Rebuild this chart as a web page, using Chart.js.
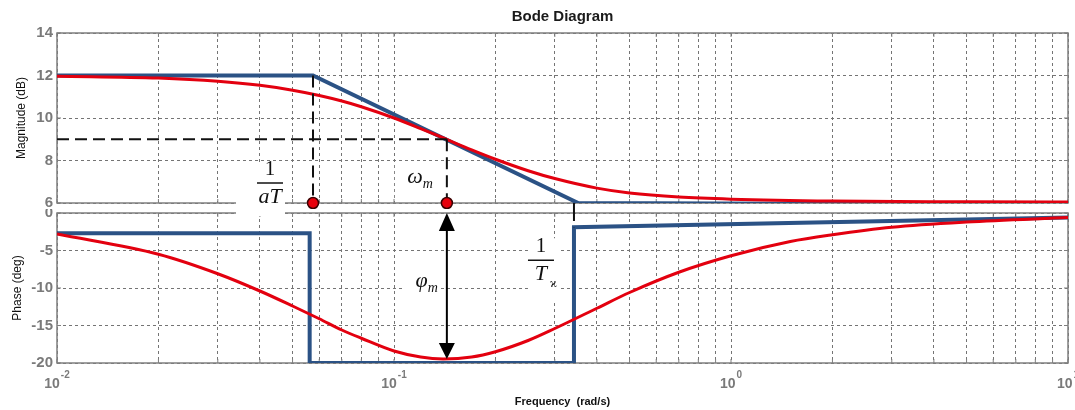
<!DOCTYPE html>
<html>
<head>
<meta charset="utf-8">
<title>Bode Diagram</title>
<script src="https://cdn.jsdelivr.net/npm/chart.js@4.4.0/dist/chart.umd.min.js"></script>
<style>
  body { margin: 0; background: #fff; }
  #wrap { position: relative; width: 1075px; height: 410px; }
  canvas { position: absolute; left: 0; }
  #magChart { top: 0; }
  #phaseChart { top: 209px; }
</style>
</head>
<body>
<div id="wrap">
  <canvas id="magChart" width="1075" height="209"></canvas>
  <canvas id="phaseChart" width="1075" height="201"></canvas>
</div>
<script>
// frequency grid, rad/s
var freqTicks = [0.01, 0.02, 0.03, 0.04, 0.05, 0.06, 0.07, 0.08, 0.09,
                 0.1, 0.2, 0.3, 0.4, 0.5, 0.6, 0.7, 0.8, 0.9,
                 1, 2, 3, 4, 5, 6, 7, 8, 9, 10];
var decadeTicks = [0.01, 0.1, 1, 10];
var decadeExp = ['-2', '-1', '0', '1'];

// exact response (red)
var magFreq = [0.01, 0.02, 0.03, 0.04, 0.05, 0.06, 0.07, 0.08, 0.1, 0.12, 0.14,
               0.17, 0.2, 0.25, 0.3, 0.4, 0.5, 0.7, 1, 2, 5, 10];
var magExact = [11.97, 11.88, 11.73, 11.54, 11.31, 11.06, 10.8, 10.53, 10.0, 9.5, 9.06,
                8.5, 8.06, 7.52, 7.15, 6.7, 6.47, 6.28, 6.18, 6.09, 6.06, 6.05];
var phaseFreq = [0.01, 0.02, 0.03, 0.04, 0.05, 0.06, 0.07, 0.08, 0.1, 0.12, 0.14, 0.17,
                 0.2, 0.25, 0.3, 0.4, 0.5, 0.7, 1, 1.5, 2, 3, 5, 10];
var phaseExact = [-2.8, -5.5, -8.1, -10.4, -12.4, -14.1, -15.6, -16.7, -18.4, -19.2, -19.45, -19.2,
                  -18.5, -17.0, -15.4, -12.7, -10.6, -7.9, -5.7, -3.8, -2.9, -1.9, -1.2, -0.6];

// asymptotes (blue)
var asymMagFreq = [0.01, 0.0575, 0.352, 10];
var asymMag = [12, 12, 6, 5.92];
var asymPhaseFreq = [0.01, 0.0562, 0.0562, 0.342, 0.342, 10];
var asymPhase = [-2.7, -2.7, -20, -20, -1.9, -0.6];

// marked frequencies
var wCorner = 0.0575;   // 1/aT
var wMax = 0.1435;      // omega_m
var wUpper = 0.342;     // 1/T
var magAtMax = 9;
var phaseAtMax = -19.45;

var RED = '#e3000f';
var BLUE = '#2b5285';
var GRID = '#747474';
var FRAME = '#7f7f7f';
var LABEL = '#7a7a7a';
var MATH = '"Liberation Serif", "DejaVu Serif", serif';

Chart.defaults.font.family = '"Liberation Sans", Arial, sans-serif';

function points(xs, ys) {
    return xs.map(function (x, i) { return {x: x, y: ys[i]}; });
}

function freqAxis(showTitle) {
    return {
        type: 'logarithmic',
        min: 0.01,
        max: 10,
        afterBuildTicks: function (s) {
            s.ticks = freqTicks.map(function (v) { return {value: v}; });
        },
        afterFit: function (s) {
            s.height = showTitle ? 47 : 0;
            s.paddingLeft = 0; s.paddingRight = 0;
        },
        ticks: { display: false, autoSkip: false, callback: function () { return ''; } },
        grid: { color: GRID, lineWidth: 1, drawTicks: false },
        border: { display: false, dash: [3, 3] },
        title: {
            display: showTitle,
            text: 'Frequency  (rad/s)',
            color: '#111',
            font: { size: 11, weight: 'bold' },
            padding: { top: 0, bottom: 1 }
        }
    };
}

function valueAxis(min, max, step, title, titlePad) {
    return {
        min: min,
        max: max,
        afterFit: function (s) {
            s.width = 57;
            s.paddingTop = 0; s.paddingBottom = 0;
        },
        ticks: { stepSize: step, padding: 4, color: LABEL, font: { size: 15, weight: 'bold' } },
        grid: { color: GRID, lineWidth: 1, drawTicks: false },
        border: { display: false, dash: [3, 3] },
        title: {
            display: true,
            text: title,
            color: '#111',
            font: { size: 12 },
            padding: { top: titlePad, bottom: 0 }
        }
    };
}

// solid box round the plot with short inward ticks
function drawFrame(chart) {
    var ctx = chart.ctx, a = chart.chartArea;
    var xs = chart.scales.x, ys = chart.scales.y;
    ctx.save();
    ctx.strokeStyle = FRAME;
    ctx.lineWidth = 1.5;
    ctx.strokeRect(a.left, a.top, a.right - a.left, a.bottom - a.top);
    ctx.lineWidth = 1;
    ctx.beginPath();
    xs.ticks.forEach(function (t) {
        var px = xs.getPixelForValue(t.value);
        ctx.moveTo(px, a.top); ctx.lineTo(px, a.top + 4);
        ctx.moveTo(px, a.bottom); ctx.lineTo(px, a.bottom - 4);
    });
    ys.ticks.forEach(function (t) {
        var py = ys.getPixelForValue(t.value);
        ctx.moveTo(a.left, py); ctx.lineTo(a.left + 4, py);
        ctx.moveTo(a.right, py); ctx.lineTo(a.right - 4, py);
    });
    ctx.stroke();
    ctx.restore();
}

function blank(ctx, x0, y0, x1, y1) {
    ctx.fillStyle = '#fff';
    ctx.fillRect(x0, y0, x1 - x0, y1 - y0);
}

function dashed(ctx, x0, y0, x1, y1) {
    ctx.save();
    ctx.strokeStyle = '#111';
    ctx.lineWidth = 2;
    ctx.setLineDash([12, 6]);
    ctx.beginPath();
    ctx.moveTo(x0, y0);
    ctx.lineTo(x1, y1);
    ctx.stroke();
    ctx.restore();
}

function dot(ctx, x, y) {
    ctx.save();
    ctx.beginPath();
    ctx.arc(x, y, 5.5, 0, Math.PI * 2);
    ctx.fillStyle = '#e8000b';
    ctx.fill();
    ctx.lineWidth = 1.5;
    ctx.strokeStyle = '#3a0000';
    ctx.stroke();
    ctx.restore();
}

// fraction 1 / den, centred on cx with the bar at y
function fraction(ctx, cx, y, den, sub) {
    ctx.save();
    ctx.fillStyle = '#111';
    ctx.textAlign = 'center';
    ctx.textBaseline = 'middle';
    ctx.font = '21px ' + MATH;
    ctx.fillText('1', cx, y - 14);
    ctx.font = 'italic 22px ' + MATH;
    ctx.fillText(den, cx, y + 14);
    ctx.strokeStyle = '#111';
    ctx.lineWidth = 1.5;
    ctx.beginPath();
    ctx.moveTo(cx - 13, y);
    ctx.lineTo(cx + 13, y);
    ctx.stroke();
    if (sub) {
        ctx.font = '12px ' + MATH;
        ctx.textAlign = 'left';
        ctx.textBaseline = 'alphabetic';
        ctx.fillText(sub, cx + 9, y + 27);
    }
    ctx.restore();
}

// greek symbol with subscript m, right edge at x, baseline at y
function greek(ctx, x, y, sym) {
    ctx.save();
    ctx.fillStyle = '#111';
    ctx.textBaseline = 'alphabetic';
    ctx.font = 'italic 14px ' + MATH;
    var ws = ctx.measureText('m').width;
    ctx.font = 'italic 22px ' + MATH;
    var wg = ctx.measureText(sym).width;
    ctx.fillText(sym, x - ws - wg, y);
    ctx.font = 'italic 14px ' + MATH;
    ctx.fillText('m', x - ws, y + 5);
    ctx.restore();
}

var magMarks = {
    id: 'magMarks',
    beforeDatasetsDraw: function (chart) {
        var ctx = chart.ctx, xs = chart.scales.x, ys = chart.scales.y;
        var xC = xs.getPixelForValue(wCorner), xM = xs.getPixelForValue(wMax);
        var yB = ys.getPixelForValue(6);
        drawFrame(chart);
        blank(ctx, xC - 77, yB - 41, xC - 28, chart.height);
        blank(ctx, xM - 52, yB - 40, xM - 10, yB - 5);
    },
    afterDatasetsDraw: function (chart) {
        var ctx = chart.ctx, a = chart.chartArea, xs = chart.scales.x, ys = chart.scales.y;
        var xC = xs.getPixelForValue(wCorner), xM = xs.getPixelForValue(wMax);
        var xT = xs.getPixelForValue(wUpper);
        var yB = ys.getPixelForValue(6), yH = ys.getPixelForValue(magAtMax);
        dashed(ctx, a.left, yH, xM, yH);
        dashed(ctx, xC, ys.getPixelForValue(12), xC, yB);
        dashed(ctx, xM, yH, xM, yB);
        dashed(ctx, xT, yB, xT, chart.height);
        dot(ctx, xC, yB);
        dot(ctx, xM, yB);
        fraction(ctx, xC - 43, yB - 20, 'aT');
        greek(ctx, xM - 14, yB - 20, 'ω');
    }
};

var phaseMarks = {
    id: 'phaseMarks',
    beforeDatasetsDraw: function (chart) {
        var ctx = chart.ctx, a = chart.chartArea, xs = chart.scales.x, ys = chart.scales.y;
        var xC = xs.getPixelForValue(wCorner), xM = xs.getPixelForValue(wMax);
        var xT = xs.getPixelForValue(wUpper);
        var yMid = ys.getPixelForValue(-9.3), yBar = ys.getPixelForValue(-6.3);
        drawFrame(chart);
        blank(ctx, xC - 77, 0, xC - 28, a.top + 3);
        blank(ctx, xM - 42, yMid - 14, xM - 7, yMid + 14);
        blank(ctx, xT - 46, yBar - 22, xT - 14, yBar + 40);
    },
    afterDatasetsDraw: function (chart) {
        var ctx = chart.ctx, xs = chart.scales.x, ys = chart.scales.y;
        var xM = xs.getPixelForValue(wMax), xT = xs.getPixelForValue(wUpper);
        var y0 = ys.getPixelForValue(0), y1 = ys.getPixelForValue(phaseAtMax);
        dashed(ctx, xT, 0, xT, ys.getPixelForValue(-1.9));

        // double-headed arrow for the maximum phase
        ctx.save();
        ctx.strokeStyle = '#000';
        ctx.fillStyle = '#000';
        ctx.lineWidth = 2;
        ctx.beginPath();
        ctx.moveTo(xM, y0 + 10);
        ctx.lineTo(xM, y1 - 10);
        ctx.stroke();
        ctx.beginPath();
        ctx.moveTo(xM, y0);
        ctx.lineTo(xM - 8, y0 + 18);
        ctx.lineTo(xM + 8, y0 + 18);
        ctx.closePath();
        ctx.moveTo(xM, y1);
        ctx.lineTo(xM - 8, y1 - 16);
        ctx.lineTo(xM + 8, y1 - 16);
        ctx.closePath();
        ctx.fill();
        ctx.restore();

        greek(ctx, xM - 9, ys.getPixelForValue(-9.8), 'φ');
        fraction(ctx, xT - 33, ys.getPixelForValue(-6.3), 'T', 'ϰ');
    },
    afterDraw: function (chart) {
        var ctx = chart.ctx, a = chart.chartArea, xs = chart.scales.x;
        var base = a.bottom + 25;
        ctx.save();
        ctx.fillStyle = LABEL;
        ctx.textBaseline = 'alphabetic';
        decadeTicks.forEach(function (v, i) {
            var px = xs.getPixelForValue(v);
            ctx.font = 'bold 14px "Liberation Sans"';
            var w1 = ctx.measureText('10').width;
            ctx.font = 'bold 10px "Liberation Sans"';
            var w2 = ctx.measureText(decadeExp[i]).width;
            var x0 = px - (w1 + w2 + 1) / 2;
            ctx.font = 'bold 14px "Liberation Sans"';
            ctx.fillText('10', x0, base);
            ctx.font = 'bold 10px "Liberation Sans"';
            ctx.fillText(decadeExp[i], x0 + w1 + 1, base - 10);
        });
        ctx.restore();
    }
};

var common = {
    responsive: false,
    animation: false,
    devicePixelRatio: 1,
    parsing: false,
    normalized: true,
    elements: { point: { radius: 0 } }
};

new Chart(document.getElementById('magChart'), {
    type: 'line',
    data: {
        datasets: [
            { data: points(magFreq, magExact), borderColor: RED, borderWidth: 3,
              cubicInterpolationMode: 'monotone', order: 0 },
            { data: points(asymMagFreq, asymMag), borderColor: BLUE, borderWidth: 4,
              tension: 0, order: 1 }
        ]
    },
    options: Object.assign({}, common, {
        layout: { padding: { left: 0, right: 7, top: 0, bottom: 6 } },
        plugins: {
            legend: { display: false },
            tooltip: { enabled: false },
            title: {
                display: true,
                text: 'Bode Diagram',
                fullSize: false,
                color: '#1a1a1a',
                font: { size: 15, weight: 'bold' },
                padding: { top: 8, bottom: 7 }
            }
        },
        scales: {
            x: freqAxis(false),
            y: valueAxis(6, 14, 2, 'Magnitude (dB)', 14)
        }
    }),
    plugins: [magMarks]
});

new Chart(document.getElementById('phaseChart'), {
    type: 'line',
    data: {
        datasets: [
            { data: points(phaseFreq, phaseExact), borderColor: RED, borderWidth: 3,
              cubicInterpolationMode: 'monotone', order: 0 },
            { data: points(asymPhaseFreq, asymPhase), borderColor: BLUE, borderWidth: 4,
              tension: 0, order: 1 }
        ]
    },
    options: Object.assign({}, common, {
        layout: { padding: { left: 0, right: 7, top: 4, bottom: 0 } },
        plugins: {
            legend: { display: false },
            tooltip: { enabled: false }
        },
        scales: {
            x: freqAxis(true),
            y: valueAxis(-20, 0, 5, 'Phase (deg)', 10)
        }
    }),
    plugins: [phaseMarks]
});
</script>
</body>
</html>
